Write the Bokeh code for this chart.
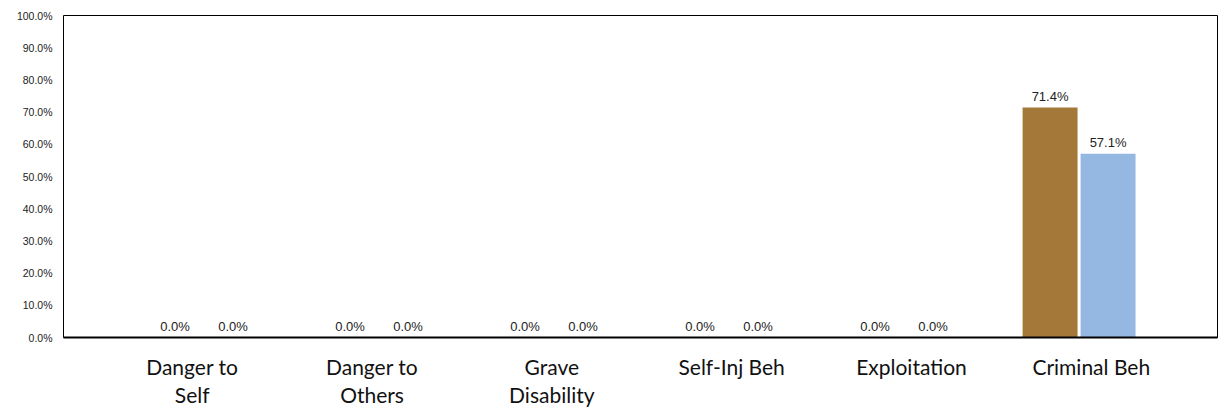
from bokeh.plotting import figure
from bokeh.models import (ColumnDataSource, Range1d, LinearAxis,
                          FixedTicker, NumeralTickFormatter)
from bokeh.core.properties import value
from bokeh.transform import dodge
from bokeh.embed import file_html
from bokeh.resources import INLINE

# ---- data ----
categories = ["Danger to Self", "Danger to Others", "Grave Disability",
              "Self-Inj Beh", "Exploitation", "Criminal Beh"]
category_labels = ["Danger to\nSelf", "Danger to\nOthers", "Grave\nDisability",
                   "Self-Inj Beh", "Exploitation", "Criminal Beh"]
series_a = [0.0, 0.0, 0.0, 0.0, 0.0, 71.4]
series_b = [0.0, 0.0, 0.0, 0.0, 0.0, 57.1]
y_ticks = [0, 10, 20, 30, 40, 50, 60, 70, 80, 90, 100]

src = ColumnDataSource(dict(
    idx=list(range(len(categories))),
    cat=categories,
    a=[v / 100 for v in series_a],
    b=[v / 100 for v in series_b],
    la=[f"{v:.1f}%" for v in series_a],
    lb=[f"{v:.1f}%" for v in series_b],
))

p = figure(x_range=Range1d(-0.803, 5.791),
           y_range=Range1d(0, 1),
           width=1220, height=412,
           min_border_left=63, min_border_right=3,
           min_border_top=15, min_border_bottom=75,
           x_axis_location=None,
           output_backend="svg", toolbar_location=None)

p.background_fill_color = "white"
p.border_fill_color = "white"
p.outline_line_color = "black"
p.outline_line_width = 1
p.xgrid.visible = False
p.ygrid.visible = False

brown = "#A47838"
blue = "#95B8E2"
off = 0.1657
bw = 0.314

p.vbar(x=dodge("idx", -off), top="a", width=bw, source=src,
       fill_color=brown, line_color=None)
p.vbar(x=dodge("idx", off), top="b", width=bw, source=src,
       fill_color=blue, line_color=None)

for col, ycol, o in (("la", "a", -off), ("lb", "b", off)):
    p.text(x=dodge("idx", o), y=ycol, text=col, source=src,
           text_align="center", text_baseline="bottom", y_offset=-4,
           text_font=value("Liberation Sans"), text_font_size="13px",
           text_color="#222222")

# y axis
yax = p.yaxis[0]
yax.ticker = FixedTicker(ticks=[t / 100 for t in y_ticks])
yax.formatter = NumeralTickFormatter(format="0.0%")
yax.major_label_text_font = "Liberation Sans"
yax.major_label_text_font_size = "10.5px"
yax.major_label_text_color = "#222222"
yax.major_tick_line_color = None
yax.major_tick_out = 0
yax.minor_tick_line_color = None
yax.minor_tick_out = 0
yax.axis_line_color = None
yax.major_label_standoff = 11

# category label axis on its own range
p.extra_x_ranges = {"lab": Range1d(-0.716, 5.702)}
lab_ax = LinearAxis(x_range_name="lab",
                    ticker=FixedTicker(ticks=list(range(len(categories)))),
                    major_label_overrides={i: s for i, s in enumerate(category_labels)})
lab_ax.major_label_text_font = "Lato"
lab_ax.major_label_text_font_size = "21px"
lab_ax.major_label_text_color = "#111111"
lab_ax.major_label_text_line_height = 1.12
lab_ax.major_tick_line_color = None
lab_ax.major_tick_out = 0
lab_ax.minor_tick_line_color = None
lab_ax.minor_tick_out = 0
lab_ax.axis_line_color = "black"
lab_ax.axis_line_width = 2
lab_ax.major_label_standoff = 16
p.add_layout(lab_ax, "below")

open("out.html", "w").write(file_html(p, INLINE))
